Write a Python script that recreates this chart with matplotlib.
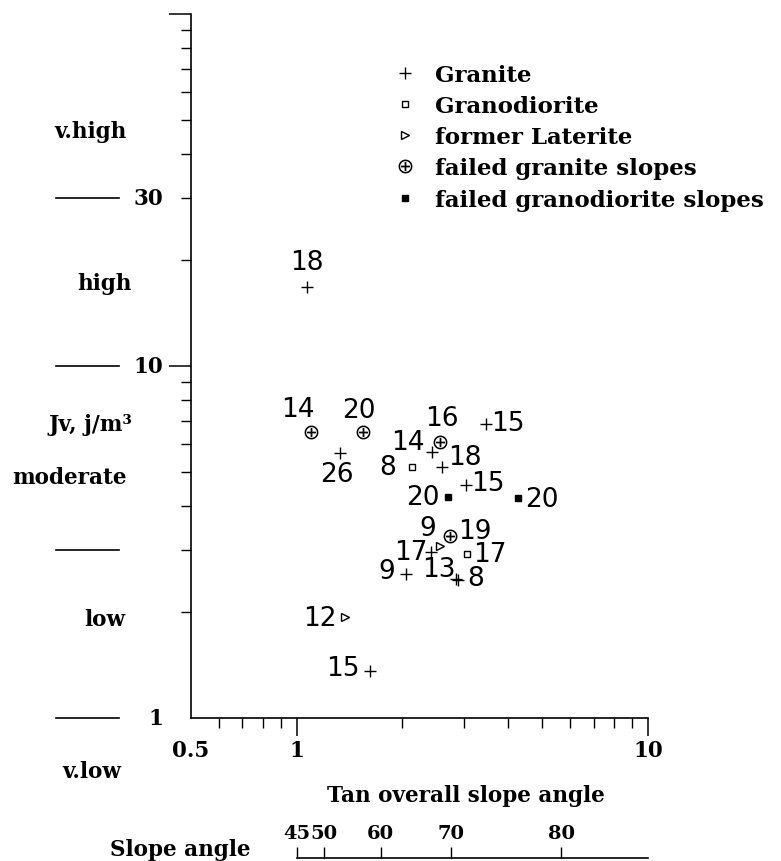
import numpy as np
import matplotlib
matplotlib.use("Agg")
from matplotlib import pyplot as plt
from matplotlib.ticker import LogLocator, NullFormatter, FixedLocator

# data: tan(slope angle) vs Jv, label = number next to point
granite_x = [1.068, 1.332, 2.425, 2.589, 3.455, 3.03, 2.409, 2.044, 2.84, 2.87, 1.614]
granite_y = [16.8, 5.65, 5.70, 5.16, 6.84, 4.59, 2.96, 2.56, 2.49, 2.47, 1.36]
granite_n = ["18", "26", "14", "18", "15", "15", "17", "9", "13", "8", "15"]

granodiorite_x = [2.127, 3.05]
granodiorite_y = [5.16, 2.92]
granodiorite_n = ["8", "17"]

laterite_x = [1.370, 2.555]
laterite_y = [1.936, 3.08]
laterite_n = ["12", "9"]

failed_granite_x = [1.101, 1.539, 2.555, 2.729]
failed_granite_y = [6.48, 6.48, 6.08, 3.29]
failed_granite_n = ["14", "20", "16", "19"]

failed_grano_x = [2.693, 4.263]
failed_grano_y = [4.24, 4.22]
failed_grano_n = ["20", "20"]

jv_classes = ["v.high", "high", "moderate", "low", "v.low"]
jv_bounds = [30, 10, 3, 1]
slope_angles = [45, 50, 60, 70, 80]

# label offsets in pixels (right, up)
granite_off = [(0, 25), (-4, -21), (-24, 10), (23, 10), (22, 1), (22, 2),
               (-20, 0), (-19, 3), (-17, 10), (18, 2), (-27, 3)]
granodiorite_off = [(-24, 0), (23, 0)]
laterite_off = [(-25, -1), (-12, 18)]
failed_granite_off = [(-14, 23), (-4, 22), (2, 24), (25, 5)]
failed_grano_off = [(-25, 0), (24, -1)]

serif = dict(family="DejaVu Serif", weight="bold", size=15.5)
small_serif = dict(family="DejaVu Serif", weight="bold", size=14)
numfont = dict(family="DejaVu Sans", size=19)

fig = plt.figure(figsize=(7.81, 8.62), dpi=100)
ax = fig.add_axes([191 / 781, 1 - 719 / 862, 457 / 781, 704 / 862])
ax.set_xscale("log")
ax.set_yscale("log")
ax.set_xlim(0.5, 10)
ax.set_ylim(1, 100)

groups = [
    (granite_x, granite_y, granite_n, granite_off,
     dict(marker="+", ms=9, mew=1.0, color="black", ls="none"), "Granite"),
    (granodiorite_x, granodiorite_y, granodiorite_n, granodiorite_off,
     dict(marker="s", ms=4.5, mew=1.0, mfc="white", mec="black", ls="none"), "Granodiorite"),
    (laterite_x, laterite_y, laterite_n, laterite_off,
     dict(marker=">", ms=6, mew=1.0, mfc="white", mec="black", ls="none"), "former Laterite"),
    (failed_granite_x, failed_granite_y, failed_granite_n, failed_granite_off,
     dict(marker=r"$\oplus$", ms=10, mew=0, color="black", ls="none"), "failed granite slopes"),
    (failed_grano_x, failed_grano_y, failed_grano_n, failed_grano_off,
     dict(marker="s", ms=4.5, color="black", ls="none"), "failed granodiorite slopes"),
]

handles = []
for xs, ys, ns, offs, style, name in groups:
    h, = ax.plot(xs, ys, clip_on=False, label=name, **style)
    handles.append(h)
    for x, y, n, (dx, dy) in zip(xs, ys, ns, offs):
        ax.annotate(n, (x, y), xytext=(dx, dy), textcoords="offset pixels",
                    ha="center", va="center", **numfont)

# axes styling
for s in ["top", "right"]:
    ax.spines[s].set_visible(False)
for s in ["left", "bottom"]:
    ax.spines[s].set_linewidth(1.2)

ax.xaxis.set_major_locator(FixedLocator([0.5, 1, 10]))
ax.set_xticklabels(["0.5", "1", "10"], fontdict=serif)
ax.xaxis.set_minor_locator(LogLocator(base=10, subs=np.arange(2, 10)))
ax.xaxis.set_minor_formatter(NullFormatter())
ax.xaxis.get_major_ticks()[0].tick1line.set_visible(False)
ax.tick_params(axis="x", which="major", length=13, width=1.1, pad=2)
ax.tick_params(axis="x", which="minor", length=7, width=1.0)

ax.yaxis.set_major_locator(FixedLocator([10, 100]))
ax.yaxis.set_major_formatter(NullFormatter())
ax.yaxis.set_minor_locator(LogLocator(base=10, subs=np.arange(2, 10)))
ax.yaxis.set_minor_formatter(NullFormatter())
ax.tick_params(axis="y", which="major", length=16, width=1.1)
ax.tick_params(axis="y", which="minor", length=7, width=1.0)

ax.set_xlabel("Tan overall slope angle", fontdict=serif)
ax.xaxis.set_label_coords((466 - 191) / 457, (719 - 785) / 704)

# Jv class boundaries and names on the left
yt = ax.get_yaxis_transform()
for b in jv_bounds:
    ax.plot([-0.295, -0.157], [b, b], color="black", lw=1.2, transform=yt, clip_on=False)
    if b != 3:
        ax.text(-0.061, b, str(b), ha="right", va="center", transform=yt, **serif)

class_pos = [(-0.221, 46.5), (-0.190, 17.2), (-0.265, 4.84), (-0.188, 1.91), (-0.217, 0.707)]
for name, (tx, ty) in zip(jv_classes, class_pos):
    ax.text(tx, ty, name, ha="center", va="center", transform=yt, **serif)
ax.text(-0.221, 6.84, "Jv, j/m³", ha="center", va="center", transform=yt, **serif)

ax.legend(handles=handles, loc="upper left", bbox_to_anchor=(394 / 781, 1 - 65 / 862),
          bbox_transform=fig.transFigure, frameon=False, borderpad=0, borderaxespad=0,
          handlelength=1.0, handletextpad=0.8, labelspacing=0.40,
          prop=dict(family="DejaVu Serif", weight="bold", size=16.5))

# slope angle scale at the bottom
ax2 = fig.add_axes([191 / 781, 1 - 859 / 862, 457 / 781, 0.01])
ax2.set_xscale("log")
ax2.set_xlim(0.5, 10)
ax2.set_yticks([])
for s in ["top", "right", "left"]:
    ax2.spines[s].set_visible(False)
ax2.spines["bottom"].set_bounds(1, 10)
ax2.spines["bottom"].set_linewidth(1.2)
ax2.xaxis.set_major_locator(FixedLocator(np.tan(np.radians(slope_angles))))
ax2.xaxis.set_minor_locator(FixedLocator([]))
ax2.set_xticklabels([str(a) for a in slope_angles], fontdict=small_serif)
ax2.tick_params(axis="x", direction="in", length=8, width=1.0,
                labelbottom=False, labeltop=True, pad=5)
ax2.patch.set_visible(False)

fig.text(180 / 781, 1 - 850 / 862, "Slope angle", ha="center", va="center", **serif)

fig.savefig("out.png", dpi=100)
